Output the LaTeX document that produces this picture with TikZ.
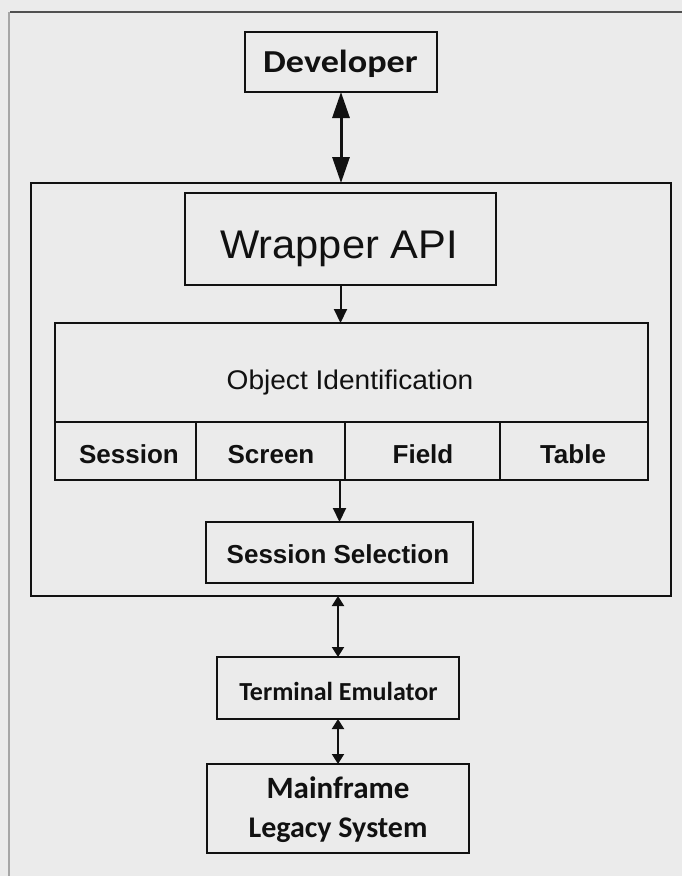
\documentclass[tikz,border=0pt]{standalone}
\usepackage{graphicx}
\usepackage{fontspec}
\setmainfont{Liberation Sans}
\newfontfamily\calfont{Carlito}
\usetikzlibrary{arrows.meta}
\definecolor{paper}{HTML}{EBEBEB}
\definecolor{ink}{HTML}{111111}
\definecolor{edge}{HTML}{505050}
\begin{document}
\begin{tikzpicture}[x=1pt,y=-1pt,
  box/.style={draw=ink, line width=2.2pt, inner sep=0pt, outer sep=0pt},
  lbl/.style={anchor=base, inner sep=0pt, outer sep=0pt, text=ink},
  bigtip/.tip={Triangle[length=26pt,width=17pt]},
  midtip/.tip={Triangle[length=14pt,width=13pt]},
  smalltip/.tip={Triangle[length=10pt,width=12pt]},
  biglink/.style={draw=ink, line width=3pt, bigtip-bigtip},
  downlink/.style={draw=ink, line width=2pt, -midtip},
  twolink/.style={draw=ink, line width=2pt, smalltip-smalltip}]
\useasboundingbox (0,0) rectangle (682,876);
% page
\fill[paper] (0,0) rectangle (682,876);
\draw[edge, line width=1.6pt] (10,12) -- (682,12);
\draw[gray!70, line width=1.6pt] (9,12) -- (9,876);

% boxes
\node[box, minimum width=192pt, minimum height=60pt]  (dev)  at (341,62) {};
\node[box, minimum width=640pt, minimum height=413pt] (cont) at (351,389.5) {};
\node[box, minimum width=311pt, minimum height=92pt]  (wrap) at (340.5,239) {};
\node[box, minimum width=593pt, minimum height=99pt]  (obj)  at (351.5,372.5) {};
\node[box, minimum width=141pt, minimum height=58pt]  (ses)  at (125.5,451) {};
\node[box, minimum width=149pt, minimum height=58pt]  (scr)  at (270.5,451) {};
\node[box, minimum width=155pt, minimum height=58pt]  (fld)  at (422.5,451) {};
\node[box, minimum width=148pt, minimum height=58pt]  (tab)  at (574,451) {};
\node[box, minimum width=267pt, minimum height=61pt]  (sel)  at (339.5,552.5) {};
\node[box, minimum width=242pt, minimum height=62pt]  (term) at (338,688) {};
\node[box, minimum width=262pt, minimum height=89pt]  (main) at (338,808.5) {};

% labels
\node[lbl] (devtxt)  at (340.5,72)  {\calfont\bfseries\fontsize{32}{36}\selectfont\scalebox{1.13}[1]{Developer}};
\node[lbl] (wraptxt) at (339,258)   {\fontsize{40}{44}\selectfont\scalebox{1.04}[1]{Wrapper API}};
\node[lbl] (objtxt)  at (350,389)   {\fontsize{27}{32}\selectfont\scalebox{1.04}[1]{Object Identification}};
\node[lbl] (sestxt)  at (129,463)   {\fontsize{26}{30}\selectfont\bfseries Session};
\node[lbl] (scrtxt)  at (271,463)   {\fontsize{26}{30}\selectfont\bfseries Screen};
\node[lbl] (fldtxt)  at (423,463)   {\fontsize{26}{30}\selectfont\bfseries Field};
\node[lbl] (tabtxt)  at (573,463)   {\fontsize{26}{30}\selectfont\bfseries Table};
\node[lbl] (seltxt)  at (338,563)   {\fontsize{26}{30}\selectfont\bfseries Session Selection};
\node[lbl] (termtxt) at (338.5,700) {\calfont\bfseries\fontsize{26}{30}\selectfont Terminal Emulator};
\node[lbl] (mftxt)   at (338,798)   {\calfont\bfseries\fontsize{31}{36}\selectfont Mainframe};
\node[lbl] (legtxt)  at (338,837)   {\calfont\bfseries\fontsize{30}{36}\selectfont Legacy System};

% connectors
\draw[biglink]  (dev.south) -- (dev.south |- cont.north);
\draw[downlink] (wrap.south) -- (wrap.south |- obj.north);
\draw[downlink] (sel.north |- scr.south) -- (sel.north);
\draw[twolink]  (term.north |- cont.south) -- (term.north);
\draw[twolink]  (term.south) -- (main.north);
\end{tikzpicture}
\end{document}
